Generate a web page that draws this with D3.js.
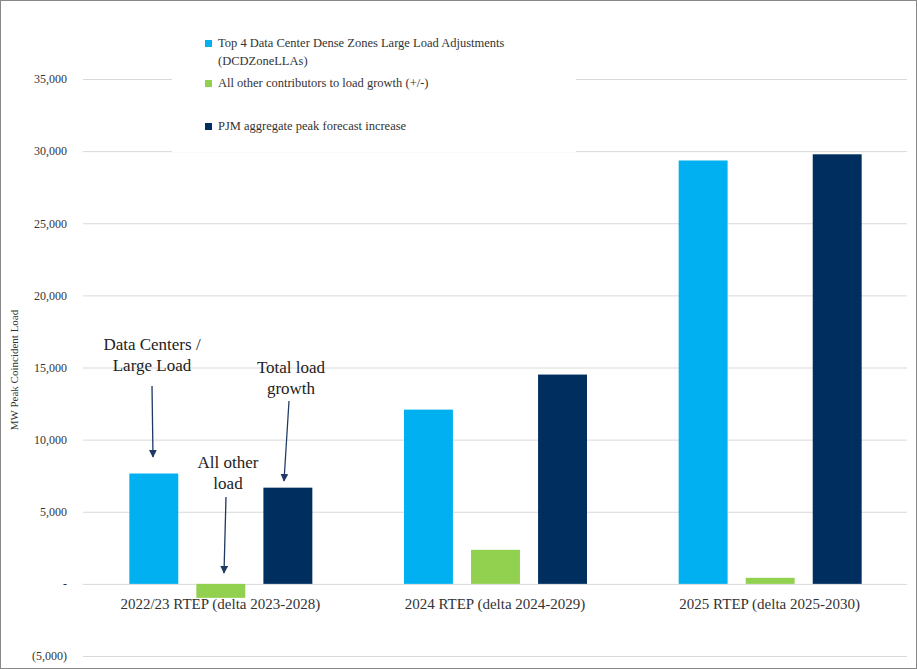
<!DOCTYPE html>
<html><head><meta charset="utf-8">
<script src="https://cdn.jsdelivr.net/npm/d3@7"></script>
<style>body{margin:0;background:#fff}svg{font-family:"Liberation Serif","Times New Roman",serif}</style>
</head><body><svg width="917" height="669"></svg>
<script>
var categories = ["2022/23 RTEP (delta 2023-2028)", "2024 RTEP (delta 2024-2029)", "2025 RTEP (delta 2025-2030)"];
var seriesNames = ["Top 4 Data Center Dense Zones Large Load Adjustments", "All other contributors to load growth (+/-)", "PJM aggregate peak forecast increase"];
var dataCenters = [7650, 12080, 29350];
var otherLoad = [-970, 2360, 420];
var totalGrowth = [6670, 14510, 29780];
var colors = ["#00b0f0", "#92d050", "#002f5f"];
var yTicks = [-5000, 0, 5000, 10000, 15000, 20000, 25000, 30000, 35000];

var svg = d3.select("svg");
svg.append("rect").attr("x", 0.5).attr("y", 0.5).attr("width", 916).attr("height", 668)
  .attr("fill", "none").attr("stroke", "#888");

var y = d3.scaleLinear().domain([-5000, 35000]).range([656, 79]);
var x0 = d3.scaleBand().domain(categories).range([83, 907]);
var x1 = d3.scaleBand().domain([0, 1, 2]).range([0, 183]).paddingInner(0.27);

var fmt = function(v) { return v === 0 ? "-" : v < 0 ? "(" + d3.format(",")(-v) + ")" : d3.format(",")(v); };

var yAxis = svg.append("g").attr("transform", "translate(83,0)")
  .call(d3.axisLeft(y).tickValues(yTicks).tickFormat(fmt).tickSize(-824));
yAxis.select(".domain").remove();
yAxis.selectAll("line").attr("stroke", "#d9d9d9");
yAxis.selectAll("text").attr("x", -16).attr("font-size", 12).attr("fill", "#333")
  .attr("font-family", "Liberation Serif");

svg.append("text").attr("transform", "translate(18,370) rotate(-90)").attr("text-anchor", "middle")
  .attr("font-size", 11).attr("fill", "#333").text("MW Peak Coincident Load");

var series = [dataCenters, otherLoad, totalGrowth];
var groups = svg.selectAll(".grp").data(categories).enter().append("g")
  .attr("transform", function(d) { return "translate(" + (x0(d) + x0.bandwidth() / 2 - 91) + ",0)"; });
groups.each(function(c, ci) {
  d3.select(this).selectAll("rect").data(series.map(function(s) { return s[ci]; })).enter().append("rect")
    .attr("x", function(d, i) { return x1(i); })
    .attr("width", x1.bandwidth())
    .attr("y", function(d) { return y(Math.max(0, d)); })
    .attr("height", function(d) { return Math.abs(y(d) - y(0)); })
    .attr("fill", function(d, i) { return colors[i]; });
});

svg.selectAll(".cat").data(categories).enter().append("text")
  .attr("x", function(d) { return x0(d) + x0.bandwidth() / 2; }).attr("y", 609)
  .attr("text-anchor", "middle").attr("font-size", 15).attr("fill", "#333").text(function(d) { return d; });

// legend
var leg = svg.append("g");
leg.append("rect").attr("x", 172).attr("y", 28).attr("width", 404).attr("height", 124).attr("fill", "#fff");
var legY = [45, 85, 128];
seriesNames.forEach(function(n, i) {
  leg.append("rect").attr("x", 205).attr("y", legY[i] - 5).attr("width", 7).attr("height", 7).attr("fill", colors[i]);
  leg.append("text").attr("x", 218).attr("y", legY[i] + 2).attr("font-size", 12.5).attr("fill", "#333").text(n);
});
leg.append("text").attr("x", 218).attr("y", 65).attr("font-size", 12.5).attr("fill", "#333").text("(DCDZoneLLAs)");

// annotations
svg.append("defs").append("marker").attr("id", "ah").attr("viewBox", "0 0 10 10").attr("refX", 9).attr("refY", 5)
  .attr("markerWidth", 6).attr("markerHeight", 6).attr("orient", "auto")
  .append("path").attr("d", "M0,0L10,5L0,10z").attr("fill", "#1f3864");
var notes = [
  {lines: ["Data Centers /", "Large Load"], x: 152, y: 350, ax1: 152, ay1: 386, ax2: 153, ay2: 457},
  {lines: ["All other", "load"], x: 228, y: 468, ax1: 226, ay1: 497, ax2: 224, ay2: 573},
  {lines: ["Total load", "growth"], x: 291, y: 373, ax1: 289, ay1: 401, ax2: 284, ay2: 481}
];
notes.forEach(function(n) {
  n.lines.forEach(function(l, i) {
    svg.append("text").attr("x", n.x).attr("y", n.y + i * 21).attr("text-anchor", "middle")
      .attr("font-size", 17).attr("fill", "#222").text(l);
  });
  svg.append("line").attr("x1", n.ax1).attr("y1", n.ay1).attr("x2", n.ax2).attr("y2", n.ay2)
    .attr("stroke", "#1f3864").attr("stroke-width", 1.3).attr("marker-end", "url(#ah)");
});
</script></body></html>
